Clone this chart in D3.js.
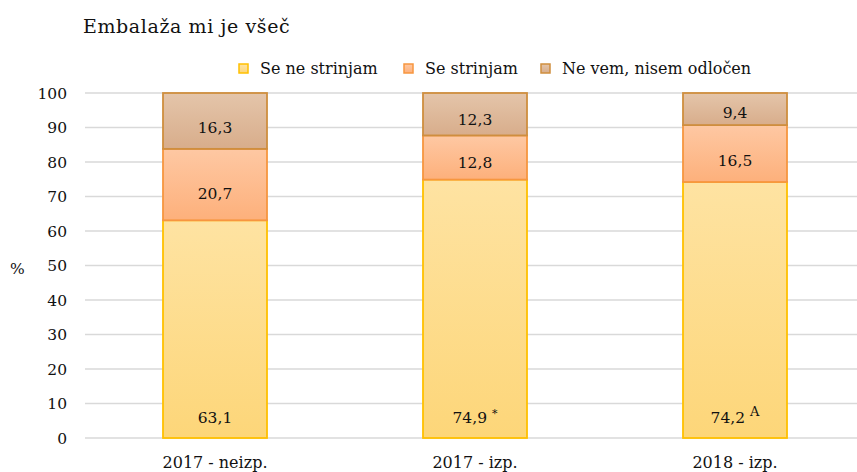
<!DOCTYPE html>
<html><head><meta charset="utf-8">
<script src="https://cdn.jsdelivr.net/npm/d3@7"></script>
<style>body{margin:0;background:#fff}svg{display:block}text{font-family:"DejaVu Serif","Liberation Serif",serif;fill:#111}</style>
</head><body><svg id="c" width="857" height="472"></svg>
<script>
const title = "Embalaža mi je všeč";
const categories = ["2017 - neizp.", "2017 - izp.", "2018 - izp."];
const seriesNames = ["Se ne strinjam", "Se strinjam", "Ne vem, nisem odločen"];
const seNeStrinjam = [63.1, 74.9, 74.2];
const seStrinjam = [20.7, 12.8, 16.5];
const neVem = [16.3, 12.3, 9.4];
const marks = ["", "*", "A"];
const yTicks = [0,10,20,30,40,50,60,70,80,90,100];

const svg = d3.select("#c");
const x = d3.scaleBand().domain(categories).range([85, 865]).paddingInner(0.6).paddingOuter(0.3);
const y = d3.scaleLinear().domain([0,100]).range([438, 93]);

const fills = [["#fee3a2","#fdd679"],["#fec8a3","#fdb07b"],["#e4c5aa","#d8ad8b"]];
const strokes = ["#ffc000","#f7963f","#cf8e3e"];
const defs = svg.append("defs");
fills.forEach((f,i)=>{
  const g = defs.append("linearGradient").attr("id","g"+i).attr("x1",0).attr("y1",0).attr("x2",0).attr("y2",1);
  g.append("stop").attr("offset","0%").attr("stop-color",f[0]);
  g.append("stop").attr("offset","100%").attr("stop-color",f[1]);
});

svg.append("text").attr("x",83).attr("y",33).attr("font-size",19).attr("letter-spacing",0.6).text(title);

// grid
svg.append("g").selectAll("line").data(yTicks).join("line")
  .attr("x1",85).attr("x2",865).attr("y1",d=>y(d)).attr("y2",d=>y(d))
  .attr("stroke","#d9d9d9").attr("stroke-width",1.5);

const yAxis = svg.append("g").attr("transform","translate(67,0)")
  .call(d3.axisLeft(y).tickValues(yTicks).tickSize(0).tickPadding(0));
yAxis.select(".domain").remove();
yAxis.selectAll("text").attr("font-size",15.5).attr("font-family","DejaVu Serif").attr("fill","#111").attr("dy","0.35em");

svg.append("text").attr("x",10).attr("y",274).attr("font-size",15.5).text("%");

const rows = categories.map((c,i)=>({c, v:[seNeStrinjam[i], seStrinjam[i], neVem[i]], m:marks[i]}));
const stackData = rows.map(r=>({c:r.c, s0:r.v[0], s1:r.v[1], s2:r.v[2]}));
const stack = d3.stack().keys(["s0","s1","s2"])(stackData);

stack.forEach((layer,li)=>{
  const g = svg.append("g");
  g.selectAll("rect").data(layer).join("rect")
    .attr("x",d=>x(d.data.c)).attr("width",x.bandwidth())
    .attr("y",d=>y(Math.min(d[1],100))).attr("height",d=>y(d[0])-y(Math.min(d[1],100)))
    .attr("fill",`url(#g${li})`).attr("stroke",strokes[li]).attr("stroke-width",1.8);
});

// labels
const fmt = v => String(v.toFixed(1)).replace(".",",");
stack.forEach((layer,li)=>{
  layer.forEach((d,i)=>{
    const v = d[1]-d[0];
    let yy;
    if (li===0) yy = y(d[0]) - 20;
    else yy = (y(d[0])+y(Math.min(d[1],100)))/2 + (y(d[0])-y(Math.min(d[1],100)))*0.12;
    const t = svg.append("text").attr("x",x(d.data.c)+x.bandwidth()/2).attr("y",yy)
      .attr("text-anchor","middle").attr("dy","0.35em").attr("font-size",15.5);
    t.append("tspan").text(fmt(v));
    if (li===0 && rows[i].m) {
      t.append("tspan").attr("dx",5).attr("dy","-0.55em").attr("font-size",rows[i].m==="*"?11:13).text(rows[i].m);
    }
  });
});

// x labels
svg.append("g").selectAll("text").data(categories).join("text")
  .attr("x",d=>x(d)+x.bandwidth()/2).attr("y",468).attr("text-anchor","middle").attr("font-size",16).text(d=>d);

// legend
const legX = [239, 404, 541];
seriesNames.forEach((n,i)=>{
  svg.append("rect").attr("x",legX[i]).attr("y",64).attr("width",9).attr("height",9)
    .attr("fill",`url(#g${i})`).attr("stroke",strokes[i]).attr("stroke-width",1.5);
  svg.append("text").attr("x",legX[i]+21).attr("y",74).attr("font-size",16).text(n);
});
</script></body></html>
